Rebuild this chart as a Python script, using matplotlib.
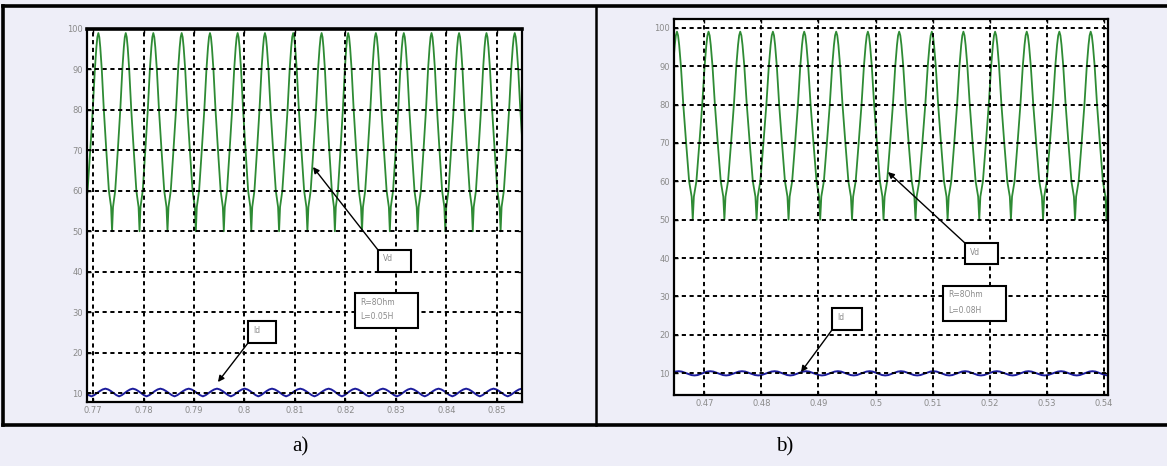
import numpy as np
import matplotlib
matplotlib.use("Agg")
import matplotlib.pyplot as plt
from matplotlib.patches import Rectangle
from matplotlib.lines import Line2D

plt.rcParams['lines.scale_dashes'] = False

# ---------------- data ----------------
# panel a)
vd_peaks_a = [0.76550, 0.77105, 0.77648, 0.78194, 0.78756, 0.79317, 0.79865,
              0.80406, 0.80966, 0.81529, 0.82055, 0.82604, 0.83158, 0.83707,
              0.84253, 0.84796, 0.85356, 0.85911]
id_peaks_a = [0.76690, 0.77245, 0.77788, 0.78334, 0.78896, 0.79457, 0.80005,
              0.80546, 0.81106, 0.81669, 0.82195, 0.82744, 0.83298, 0.83847,
              0.84393, 0.84936, 0.85496, 0.86051]
# panel b)
vd_peaks_b = [0.45967, 0.46522, 0.47075, 0.47630, 0.48202, 0.48750, 0.49310,
              0.49865, 0.50413, 0.50985, 0.51538, 0.52093, 0.52647, 0.53218,
              0.53767, 0.54322]
id_peaks_b = [0.45997, 0.46552, 0.47105, 0.47660, 0.48232, 0.48780, 0.49340,
              0.49895, 0.50443, 0.51015, 0.51568, 0.52123, 0.52677, 0.53248,
              0.53797, 0.54352]

# one pulse of Vd, from a peak to the next peak (fraction of pulse, value)
vd_pulse_frac = [0.0, 0.035, 0.07, 0.125, 0.20, 0.29, 0.385, 0.465, 0.5,
                 0.535, 0.615, 0.71, 0.80, 0.875, 0.93, 0.965, 1.0]
vd_pulse_val = [99.0, 98.0, 95.5, 90.0, 80.0, 70.0, 60.0, 56.0, 50.0,
                56.0, 60.0, 70.0, 80.0, 90.0, 95.5, 98.0, 99.0]
# one ripple of Id
id_pulse_frac = [0.0, 0.1, 0.2, 0.3, 0.4, 0.5, 0.6, 0.7, 0.8, 0.9, 1.0]
id_pulse_val_a = [11.1, 10.9, 10.5, 10.0, 9.5, 9.2, 9.5, 10.0, 10.5, 10.9, 11.1]
id_pulse_val_b = [10.5, 10.4, 10.1, 9.8, 9.5, 9.4, 9.5, 9.8, 10.1, 10.4, 10.5]

yticks = [10, 20, 30, 40, 50, 60, 70, 80, 90, 100]
xticks_a = [0.77, 0.78, 0.79, 0.80, 0.81, 0.82, 0.83, 0.84, 0.85]
xlabels_a = ['0.77', '0.78', '0.79', '0.8', '0.81', '0.82', '0.83', '0.84', '0.85']
xticks_b = [0.47, 0.48, 0.49, 0.50, 0.51, 0.52, 0.53, 0.54]
xlabels_b = ['0.47', '0.48', '0.49', '0.5', '0.51', '0.52', '0.53', '0.54']
params_a = ['R=8Ohm', 'L=0.05H']
params_b = ['R=8Ohm', 'L=0.08H']
captions = ['a)', 'b)']


def build_wave(peaks, frac, vals):
    t, v = [], []
    for p0, p1 in zip(peaks[:-1], peaks[1:]):
        for f, y in zip(frac[:-1], vals[:-1]):
            t.append(p0 + f * (p1 - p0))
            v.append(y)
    t.append(peaks[-1])
    v.append(vals[-1])
    return np.array(t), np.array(v)


BG = '#eeeef8'
fig = plt.figure(figsize=(11.67, 4.66), dpi=100, facecolor=BG)

GREEN = '#2e8b34'
BLUE = '#1c1c9c'
TXT = '#8a8a8a'


def setup_axes(rect, xlim, ylim, xticks, xlabels, vd_peaks, id_peaks, id_vals,
               boxes, params, top_lw):
    ax = fig.add_axes(rect)
    ax.set_facecolor('white')
    tv, vv = build_wave(vd_peaks, vd_pulse_frac, vd_pulse_val)
    ti, vi = build_wave(id_peaks, id_pulse_frac, id_vals)
    ax.plot(tv, vv, color=GREEN, lw=1.3, zorder=2)
    ax.plot(ti, vi, color=BLUE, lw=1.4, zorder=2)
    ax.set_xlim(*xlim)
    ax.set_ylim(*ylim)
    ax.set_xticks(xticks)
    ax.set_xticklabels(xlabels)
    ax.set_yticks(yticks)
    ax.set_yticklabels([str(v) for v in yticks])
    ax.tick_params(axis='both', direction='in', length=3, width=1,
                   labelsize=6, labelcolor=TXT, top=True, right=True, pad=3)
    ax.grid(True, color='black', linestyle=(0, (3.0, 2.6)), linewidth=1.4)
    ax.set_axisbelow(False)
    for s in ax.spines.values():
        s.set_linewidth(1.6)
        s.set_color('black')
    ax.spines['top'].set_linewidth(top_lw)

    (vd_box, vd_tip, r_box, id_box, id_tip) = boxes
    for box, label in ((vd_box, ['Vd']), (id_box, ['Id']), (r_box, params)):
        x0, x1, yb, yt = box
        ax.add_patch(Rectangle((x0, yb), x1 - x0, yt - yb, transform=ax.transAxes,
                               facecolor='white', edgecolor='black', lw=1.5,
                               zorder=5))
        for k, lab in enumerate(label):
            ax.text(x0 + 0.012, yt - 0.012 - 0.04 * k, lab, transform=ax.transAxes,
                    fontsize=5.5, color=TXT, ha='left', va='top', zorder=6)
    ax.annotate('', xy=vd_tip, xycoords='axes fraction',
                xytext=(vd_box[0], vd_box[3]), textcoords='axes fraction',
                arrowprops=dict(arrowstyle='-|>', color='black', lw=1.0,
                                mutation_scale=9, shrinkA=0, shrinkB=0),
                zorder=6)
    ax.annotate('', xy=id_tip, xycoords='axes fraction',
                xytext=(id_box[0], id_box[2]), textcoords='axes fraction',
                arrowprops=dict(arrowstyle='-|>', color='black', lw=1.0,
                                mutation_scale=9, shrinkA=0, shrinkB=0),
                zorder=6)
    return ax


boxes_a = ((0.669, 0.745, 0.3485, 0.4075), (0.5195, 0.630),
           (0.616, 0.761, 0.198, 0.292), (0.370, 0.4345, 0.158, 0.217),
           (0.301, 0.0536))
boxes_b = ((0.6705, 0.7465, 0.348, 0.404), (0.493, 0.593),
           (0.620, 0.765, 0.197, 0.290), (0.364, 0.433, 0.173, 0.231),
           (0.2926, 0.061))

setup_axes([87 / 1167, 1 - 402 / 466, 435 / 1167, 373 / 466],
           (0.7688, 0.8550), (7.8, 100.0), xticks_a, xlabels_a,
           vd_peaks_a, id_peaks_a, id_pulse_val_a, boxes_a, params_a, 2.6)
setup_axes([674 / 1167, 1 - 395 / 466, 434 / 1167, 376 / 466],
           (0.4647, 0.5407), (4.3, 102.3), xticks_b, xlabels_b,
           vd_peaks_b, id_peaks_b, id_pulse_val_b, boxes_b, params_b, 1.6)


def fline(x0, y0, x1, y1, lw):
    fig.add_artist(Line2D([x0 / 1167, x1 / 1167], [1 - y0 / 466, 1 - y1 / 466],
                          transform=fig.transFigure, color='black', lw=lw))


fline(3, 6, 1167, 6, 2.6)
fline(3, 6, 3, 425, 2.6)
fline(3, 425, 1167, 425, 2.6)
fline(596, 6, 596, 425, 1.8)

fig.text(300 / 1167, 1 - 447 / 466, captions[0], fontsize=15,
         family='Liberation Serif', ha='center', va='center')
fig.text(785 / 1167, 1 - 447 / 466, captions[1], fontsize=15,
         family='Liberation Serif', ha='center', va='center')

fig.savefig('out.png', dpi=100, facecolor=BG)
